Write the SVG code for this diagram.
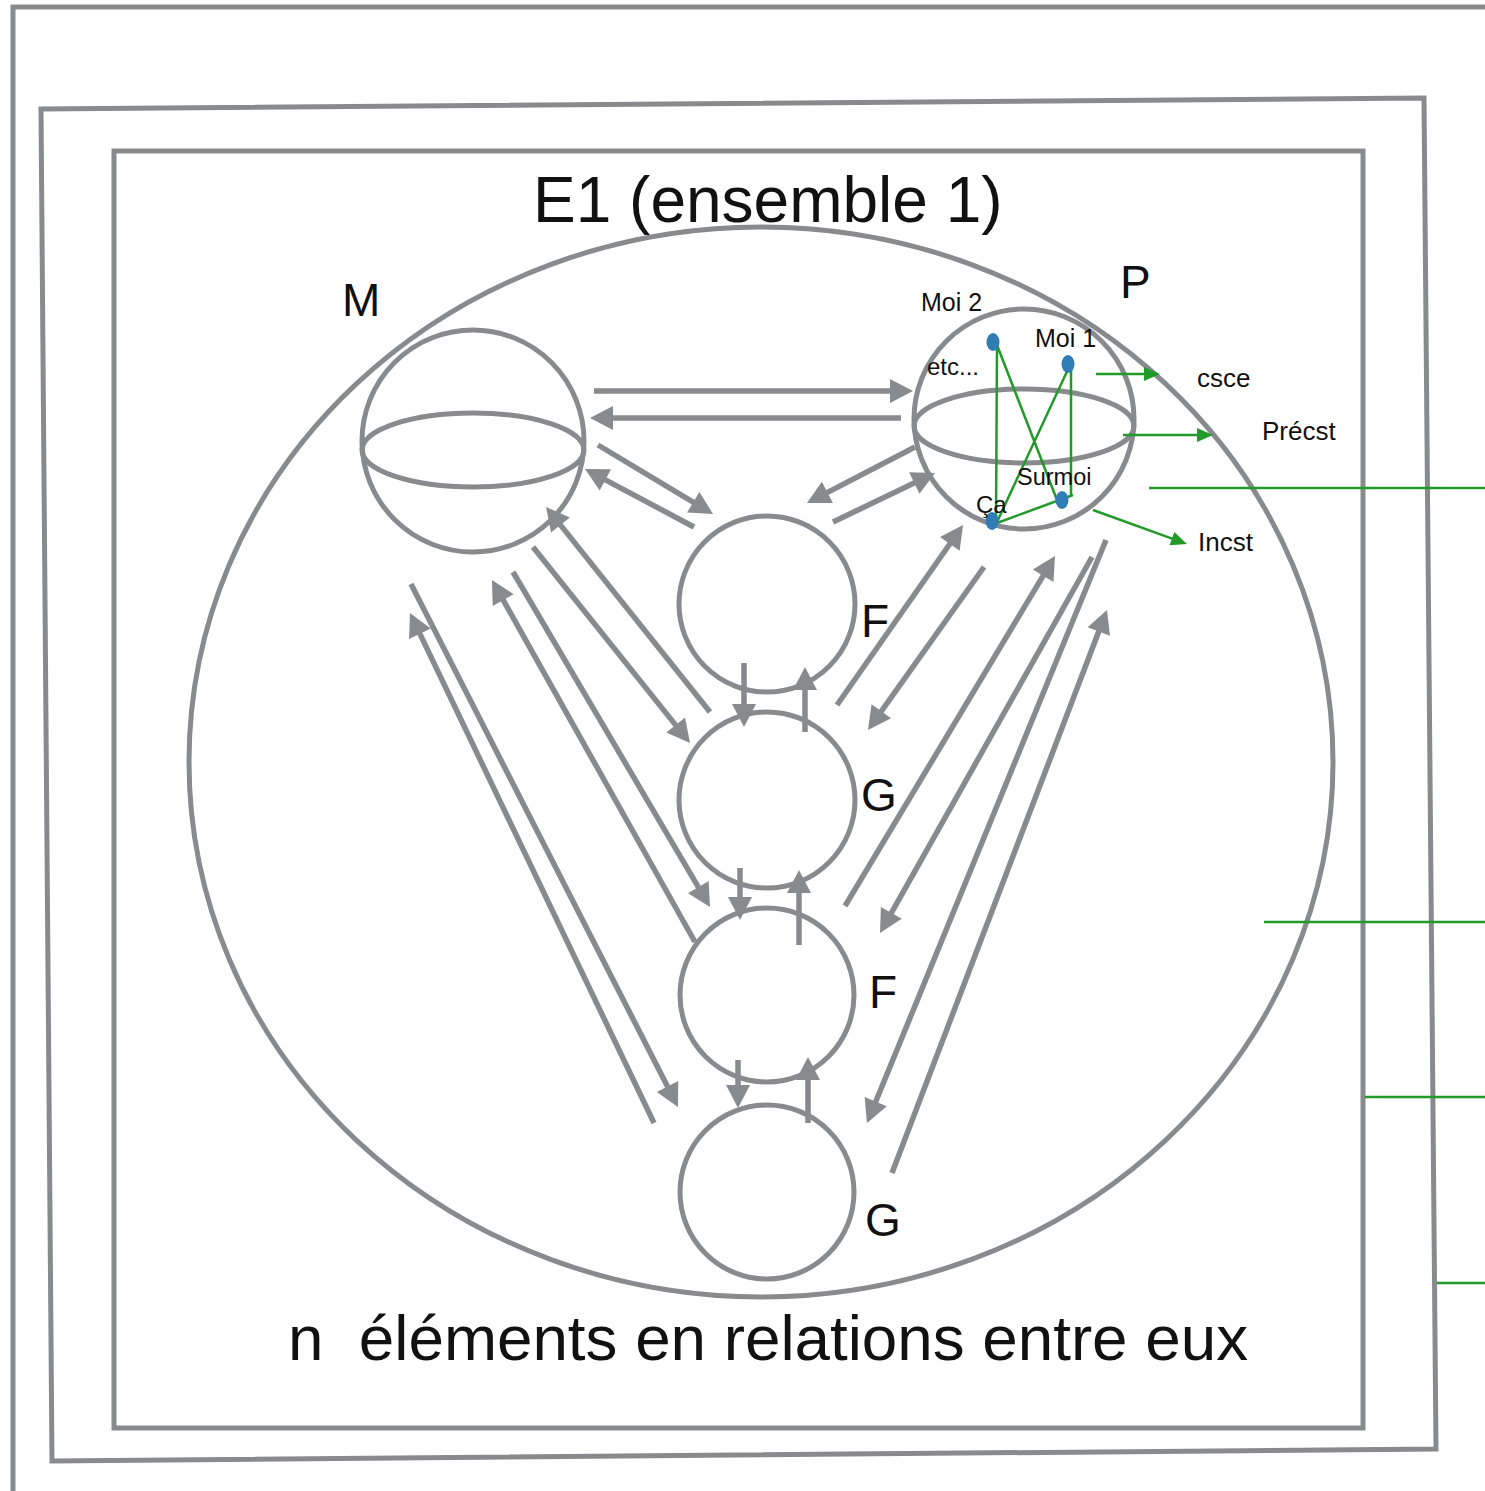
<svg xmlns="http://www.w3.org/2000/svg" width="1485" height="1491" viewBox="0 0 1485 1491">
<style>
.g{fill:none;stroke:#888a8e;stroke-width:5}
.a{fill:none;stroke:#888a8e;stroke-width:5.5;marker-end:url(#ah)}
.gr{fill:none;stroke:#229a2a;stroke-width:2.5}
.ga{fill:none;stroke:#229a2a;stroke-width:2.5;marker-end:url(#gh)}
.t{font-family:"Liberation Sans",Arial,sans-serif;fill:#111}
.dot{fill:#2f7db4}
</style>
<defs>
<marker id="ah" markerUnits="userSpaceOnUse" markerWidth="26" markerHeight="26" refX="9" refY="12" orient="auto" overflow="visible">
<path d="M0,0 L23,12 L0,24 Z" fill="#888a8e"/>
</marker>
<marker id="gh" markerUnits="userSpaceOnUse" markerWidth="18" markerHeight="16" refX="6" refY="7" orient="auto" overflow="visible">
<path d="M0,0 L16,7 L0,14 Z" fill="#229a2a"/>
</marker>
</defs>
<rect width="1485" height="1491" fill="#fff"/>

<g id="frames">
<path class="g" d="M13,1491 L13,7 L1485,7"/>
<path class="g" d="M41,109 L1424,98 L1436,1449 L52,1461 Z"/>
<rect class="g" x="114" y="151" width="1249" height="1277"/>
</g>

<g id="E1">
<ellipse class="g" cx="761" cy="762" rx="572" ry="535"/>
<text class="t" x="533" y="222" font-size="64">E1 (ensemble 1)</text>
<text class="t" x="288" y="1360" font-size="63.5" textLength="960" lengthAdjust="spacingAndGlyphs" xml:space="preserve">n  éléments en relations entre eux</text>
</g>

<g id="M">
<circle class="g" cx="473" cy="441" r="111"/>
<ellipse class="g" cx="473" cy="450" rx="111" ry="37"/>
<text class="t" x="342" y="316" font-size="46">M</text>
</g>

<g id="P">
<circle class="g" cx="1024" cy="419" r="110"/>
<ellipse class="g" cx="1024" cy="426" rx="110" ry="37"/>
<text class="t" x="1120" y="298" font-size="46">P</text>
<path class="gr" d="M997,345 L996,522 M997,345 L1057,500 M1070,365 L997,522 M1071,365 L1071,495 M997,523 L1073,495"/>
<ellipse class="dot" cx="993" cy="342" rx="6.5" ry="9"/>
<ellipse class="dot" cx="1068" cy="364" rx="6.5" ry="9"/>
<ellipse class="dot" cx="1062" cy="500" rx="6.5" ry="9"/>
<ellipse class="dot" cx="992" cy="521" rx="6.5" ry="9"/>
<text class="t" x="921" y="311" font-size="25">Moi 2</text>
<text class="t" x="1035" y="347" font-size="25">Moi 1</text>
<text class="t" x="927" y="375" font-size="24">etc...</text>
<text class="t" x="1017" y="485" font-size="23.5">Surmoi</text>
<text class="t" x="976" y="513" font-size="24">Ça</text>
</g>

<g id="F1">
<circle class="g" cx="767" cy="604" r="88"/>
<text class="t" x="861" y="637" font-size="46">F</text>
</g>
<g id="G1">
<circle class="g" cx="767" cy="800" r="88"/>
<text class="t" x="861" y="811" font-size="46">G</text>
</g>
<g id="F2">
<circle class="g" cx="767" cy="995" r="87"/>
<text class="t" x="869" y="1008" font-size="46">F</text>
</g>
<g id="G2">
<circle class="g" cx="767" cy="1192" r="87"/>
<text class="t" x="865" y="1236" font-size="46">G</text>
</g>

<g id="levels">
<text class="t" x="1197" y="387" font-size="26">csce</text>
<text class="t" x="1262" y="440" font-size="26">Précst</text>
<text class="t" x="1198" y="551" font-size="26">Incst</text>
</g>

<g id="connectors">
<line class="a" x1="594" y1="391" x2="899" y2="391"/>
<line class="a" x1="901" y1="418" x2="604" y2="418"/>
<line class="a" x1="598" y1="445" x2="701" y2="506.8"/>
<line class="a" x1="694" y1="527" x2="597.4" y2="475.6"/>
<line class="a" x1="915" y1="447" x2="819.4" y2="496.6"/>
<line class="a" x1="833" y1="522" x2="922.4" y2="479.1"/>
<line class="a" x1="710" y1="712" x2="554.8" y2="517.9"/>
<line class="a" x1="533" y1="547" x2="681.3" y2="732.1"/>
<line class="a" x1="695" y1="942" x2="498.8" y2="592.2"/>
<line class="a" x1="513" y1="572" x2="702.9" y2="894.9"/>
<line class="a" x1="411" y1="584" x2="671.6" y2="1094.5"/>
<line class="a" x1="654" y1="1123" x2="416" y2="625.6"/>
<line class="a" x1="837" y1="705" x2="955" y2="536.5"/>
<line class="a" x1="984" y1="567" x2="876.1" y2="718.6"/>
<line class="a" x1="845" y1="906" x2="1047.8" y2="568"/>
<line class="a" x1="1092" y1="557" x2="886.9" y2="920.8"/>
<line class="a" x1="1106" y1="540" x2="872.3" y2="1110"/>
<line class="a" x1="892" y1="1173" x2="1102" y2="623.1"/>
<line class="a" x1="744" y1="663" x2="744" y2="713"/>
<line class="a" x1="805" y1="732" x2="805" y2="681"/>
<line class="a" x1="740" y1="868" x2="740" y2="906"/>
<line class="a" x1="799" y1="945" x2="799" y2="884"/>
<line class="a" x1="738" y1="1060" x2="738" y2="1094"/>
<line class="a" x1="808" y1="1123" x2="808" y2="1071"/>
<line class="ga" x1="1096" y1="374" x2="1150" y2="374"/>
<line class="ga" x1="1123" y1="435" x2="1203" y2="435"/>
<line class="ga" x1="1093" y1="510" x2="1177.6" y2="540.6"/>
<line class="gr" x1="1149" y1="488" x2="1485" y2="488"/>
<line class="gr" x1="1264" y1="922" x2="1485" y2="922"/>
<line class="gr" x1="1365" y1="1097" x2="1485" y2="1097"/>
<line class="gr" x1="1437" y1="1283" x2="1485" y2="1283"/>
</g>
</svg>
